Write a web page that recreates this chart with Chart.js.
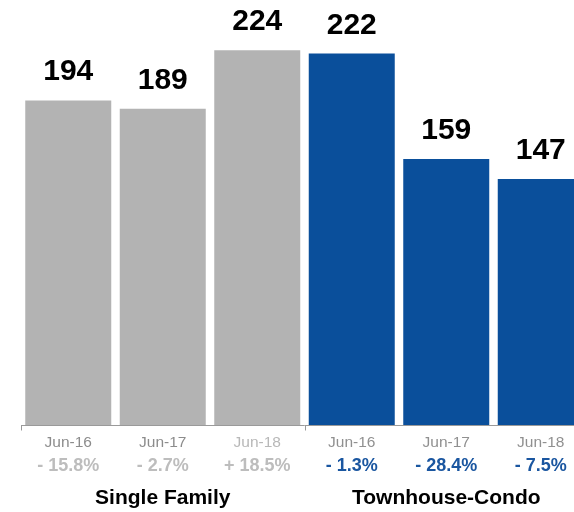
<!DOCTYPE html>
<html>
<head>
<meta charset="utf-8">
<script src="https://cdn.jsdelivr.net/npm/chart.js@4/dist/chart.umd.min.js"></script>
<style>
  html, body { margin: 0; padding: 0; background: #fff; overflow: hidden; }
  #wrap { width: 588px; height: 512px; }
</style>
</head>
<body>
<div id="wrap"><canvas id="ventas" width="588" height="512"></canvas></div>
<script>
// Datos por periodo
const periodos = ['Jun-16', 'Jun-17', 'Jun-18', 'Jun-16', 'Jun-17', 'Jun-18'];
const valores = [194, 189, 224, 222, 159, 147];
const cambios = ['- 15.8%', '- 2.7%', '+ 18.5%', '- 1.3%', '- 28.4%', '- 7.5%'];
const grupos = ['Single Family', 'Townhouse-Condo'];
const porGrupo = 3;

const GRIS = '#b3b3b3';
const AZUL = '#0a4f9b';
const coloresBarra = valores.map((_, i) => i < porGrupo ? GRIS : AZUL);
const coloresPeriodo = ['#8c8c8c', '#8c8c8c', '#b8b8b8', '#909090', '#909090', '#909090'];
const coloresCambio = valores.map((_, i) => i < porGrupo ? '#bdbdbd' : '#1a56a0');

// Etiquetas, eje y titulos dibujados a mano
const etiquetas = {
    id: 'etiquetas',
    afterDatasetsDraw(chart) {
        const ctx = chart.ctx;
        const area = chart.chartArea;
        const x = chart.scales.x;
        const meta = chart.getDatasetMeta(0);
        const paso = (area.right - area.left) / periodos.length;
        ctx.save();

        // valores arriba de cada barra
        ctx.fillStyle = '#000';
        ctx.font = 'bold 30px "Liberation Sans", Arial, sans-serif';
        ctx.textAlign = 'center';
        ctx.textBaseline = 'alphabetic';
        meta.data.forEach((bar, i) => {
            ctx.fillText(String(valores[i]), bar.x, bar.y - 20);
        });

        // linea base
        const yBase = Math.round(area.bottom) + 0.5;
        ctx.strokeStyle = '#9a9a9a';
        ctx.lineWidth = 1;
        ctx.beginPath();
        ctx.moveTo(area.left, yBase);
        ctx.lineTo(area.right, yBase);
        grupos.forEach((_, g) => {
            const xt = Math.round(x.getPixelForValue(g * porGrupo) - paso / 2) + 0.5;
            ctx.moveTo(xt, yBase);
            ctx.lineTo(xt, yBase + 5);
        });
        ctx.stroke();

        // periodo y variacion
        periodos.forEach((p, i) => {
            const cx = x.getPixelForValue(i);
            ctx.font = '15.5px "Liberation Sans", Arial, sans-serif';
            ctx.fillStyle = coloresPeriodo[i];
            ctx.fillText(p, cx, 447);
            ctx.font = 'bold 18px "Liberation Sans", Arial, sans-serif';
            ctx.fillStyle = coloresCambio[i];
            ctx.fillText(cambios[i], cx, 471);
        });

        // nombre de cada grupo
        ctx.font = 'bold 21px "Liberation Sans", Arial, sans-serif';
        ctx.fillStyle = '#000';
        grupos.forEach((nombre, g) => {
            const x0 = x.getPixelForValue(g * porGrupo) - paso / 2;
            const x1 = x.getPixelForValue(g * porGrupo + porGrupo - 1) + paso / 2;
            ctx.fillText(nombre, (x0 + x1) / 2, 504);
        });
        ctx.restore();
    }
};

new Chart(document.getElementById('ventas').getContext('2d'), {
    type: 'bar',
    data: {
        labels: periodos,
        datasets: [{
            data: valores,
            backgroundColor: coloresBarra,
            borderWidth: 0,
            barPercentage: 0.91,
            categoryPercentage: 1.0
        }]
    },
    options: {
        responsive: false,
        animation: false,
        layout: { padding: { left: 21, right: 0, top: 0, bottom: 87 } },
        plugins: {
            legend: { display: false },
            tooltip: { enabled: false }
        },
        scales: {
            x: { display: false },
            y: { display: false, min: 0, max: 254 }
        }
    },
    plugins: [etiquetas]
});
</script>
</body>
</html>
